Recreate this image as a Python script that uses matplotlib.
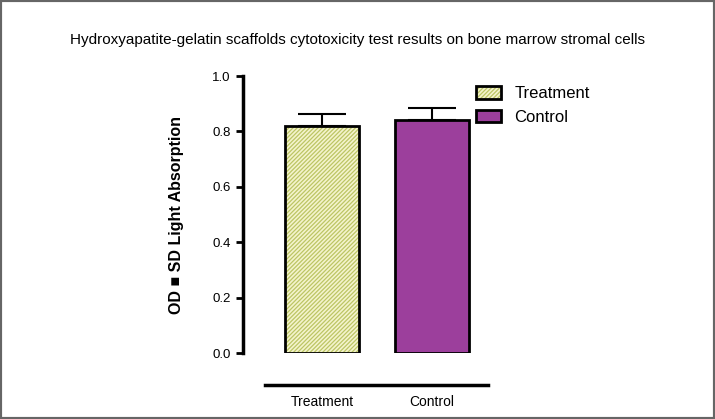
import matplotlib
matplotlib.use("Agg")
import matplotlib.pyplot as plt
from matplotlib.patches import Patch
from matplotlib.legend_handler import HandlerTuple
import numpy as np

categories = ["Treatment", "Control"]
means = [0.82, 0.84]
sds = [0.043, 0.045]
title = "Hydroxyapatite-gelatin scaffolds cytotoxicity test results on bone marrow stromal cells"
ylabel = "OD \u25a0 SD Light Absorption"
yticks = [0.0, 0.2, 0.4, 0.6, 0.8, 1.0]

plt.rcParams['font.family'] = ['Liberation Sans', 'DejaVu Sans']
plt.rcParams['hatch.linewidth'] = 0.9

fig = plt.figure(figsize=(7.15, 4.19), dpi=100)
ax = fig.add_axes([0.340, 0.1575, 0.3425, 0.6611])

x = np.arange(len(categories))
facecolors = ['#f4f4cc', '#9c3f9c']
hatchcolors = ['#bcc564', '#9c3f9c']
hatches = ['////////', None]
for i in range(len(categories)):
    ax.bar(x[i], means[i], width=0.67, color=facecolors[i], edgecolor=hatchcolors[i],
           linewidth=0, hatch=hatches[i], zorder=2)
    ax.bar(x[i], means[i], width=0.67, fill=False, edgecolor='black',
           linewidth=2, zorder=3)
    ax.errorbar(x[i], means[i], yerr=[[0], [sds[i]]], fmt='none', ecolor='black',
                elinewidth=1.5, capsize=17.5, capthick=1.5, zorder=1)

ax.set_xlim(-0.718, 1.509)
ax.set_ylim(0, 1.0)
ax.set_yticks(yticks)
ax.set_yticklabels([f"{v:.1f}" for v in yticks], fontsize=9.5)
ax.set_xticks(x)
ax.set_xticklabels(categories, fontsize=9.5)
ax.tick_params(axis='x', length=0, pad=7)
ax.tick_params(axis='y', length=5, width=2, direction='out', pad=4)

for s in ['top', 'right']:
    ax.spines[s].set_visible(False)
ax.spines['left'].set_linewidth(2.5)
ax.spines['bottom'].set_linewidth(2.5)
ax.spines['bottom'].set_position(('outward', 23))
ax.spines['bottom'].set_bounds(-0.518, 1.509)

ax.set_ylabel(ylabel, fontsize=11.5, fontweight='bold', labelpad=20)

fig.text(0.5, 0.905, title, ha='center', va='center', fontsize=11)

handles = [(Patch(facecolor=facecolors[0], edgecolor=hatchcolors[0], linewidth=0, hatch='////////'),
            Patch(fill=False, edgecolor='black', linewidth=2)),
           (Patch(facecolor=facecolors[1], edgecolor='black', linewidth=2),)]
fig.legend(handles, categories, loc='upper left', bbox_to_anchor=(0.645, 0.83),
           frameon=False, fontsize=12, handlelength=1.5, handleheight=0.8,
           labelspacing=0.5, handletextpad=0.8,
           handler_map={tuple: HandlerTuple(ndivide=1)})

border = plt.Rectangle((0, 0), 1, 1, transform=fig.transFigure, fill=False,
                       edgecolor='#666666', linewidth=3)
fig.patches.append(border)

fig.savefig("out.png", dpi=100)
